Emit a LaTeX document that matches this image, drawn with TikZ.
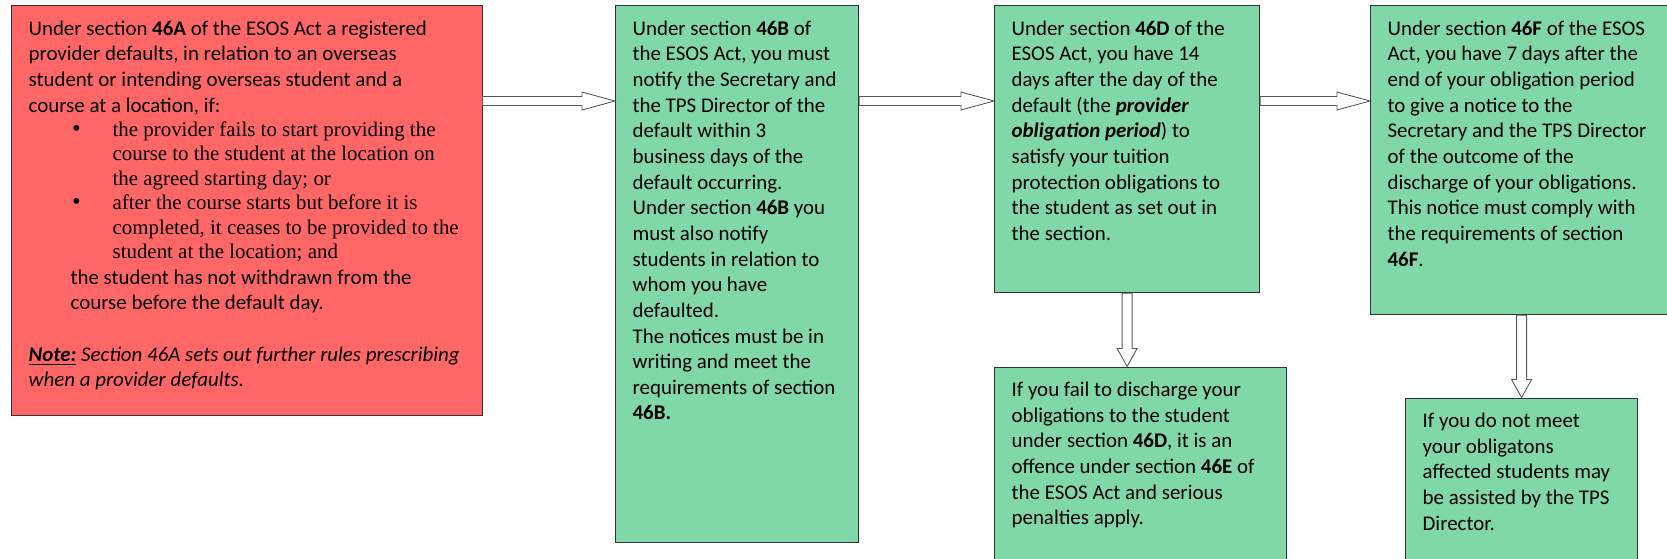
\documentclass[tikz,border=0pt]{standalone}
\usepackage{fontspec}
\setmainfont{Carlito}
\newfontfamily\timesfont{Liberation Serif}
\usepackage{xcolor}
\usetikzlibrary{calc}
\definecolor{defaultred}{HTML}{FF6666}
\definecolor{stagegreen}{HTML}{80D7A8}
\definecolor{edgegray}{HTML}{333333}
\newcommand{\stagetext}[3]{\parbox[t][#2][t]{#1}{\raggedright #3}}
\newcommand{\bulletitem}{\leavevmode\llap{{\fontsize{14}{14}\selectfont\textbullet}\hspace{0.64cm}}}

\tikzset{
  stage/.style={draw=edgegray, line width=0.7pt, anchor=north west,
    inner xsep=0.34cm, inner ysep=0.3cm, font=\fontsize{11.9}{14.6}\selectfont},
  redstage/.style={stage, fill=defaultred},
  greenstage/.style={stage, fill=stagegreen},
  rightblock/.style={draw=black!65, line width=0.5pt, fill=white,
    to path={let \p1=(\tikztostart), \p2=(\tikztotarget) in
      (\x1,\y1+0.09cm) -- (\x2-0.66cm,\y1+0.09cm) -- (\x2-0.66cm,\y1+0.18cm)
      -- (\x2,\y1) -- (\x2-0.66cm,\y1-0.18cm) -- (\x2-0.66cm,\y1-0.09cm)
      -- (\x1,\y1-0.09cm) -- cycle}},
  downblock/.style={draw=black!65, line width=0.5pt, fill=white,
    to path={let \p1=(\tikztostart), \p2=(\tikztotarget) in
      (\x1-0.1cm,\y1) -- (\x1-0.1cm,\y2+0.36cm) -- (\x1-0.2cm,\y2+0.36cm)
      -- (\x1,\y2) -- (\x1+0.2cm,\y2+0.36cm) -- (\x1+0.1cm,\y2+0.36cm)
      -- (\x1+0.1cm,\y1) -- cycle}}
}

\begin{document}
\begin{tikzpicture}
    \useasboundingbox (0,0) rectangle (33.34,-11.16);
    \clip (0,0) rectangle (33.34,-11.16);

    % When a provider defaults
    \node[redstage] (dflt) at (0.22,-0.10) {\stagetext{8.73cm}{7.60cm}{%
        Under section \textbf{46A} of the ESOS Act a registered\\
        provider defaults, in relation to an overseas\\
        student or intending overseas student and a\\
        course at a location, if:\par
        {\timesfont\fontsize{11.9}{13.9}\selectfont\leftskip=1.68cm
        \bulletitem the provider fails to start providing the\\
        course to the student at the location on\\
        the agreed starting day; or\par
        \bulletitem after the course starts but before it is\\
        completed, it ceases to be provided to the\\
        student at the location; and\par}
        {\leftskip=0.84cm the student has not withdrawn from the\\
        course before the default day.\par}
        \vspace{14.6pt}
        \textit{\underline{\textbf{Note:}} Section 46A sets out further rules prescribing}\\
        \textit{when a provider defaults.}}};

    % Notify within 3 business days
    \node[greenstage] (notify) at (12.30,-0.10) {\stagetext{4.18cm}{10.13cm}{%
        Under section \textbf{46B} of\\
        the ESOS Act, you must\\
        notify the Secretary and\\
        the TPS Director of the\\
        default within 3\\
        business days of the\\
        default occurring.\\
        Under section \textbf{46B} you\\
        must also notify\\
        students in relation to\\
        whom you have\\
        defaulted.\\
        The notices must be in\\
        writing and meet the\\
        requirements of section\\
        \textbf{46B.}}};

    % Obligation period
    \node[greenstage] (ddays) at (19.88,-0.10) {\stagetext{4.62cm}{5.14cm}{%
        Under section \textbf{46D} of the\\
        ESOS Act, you have 14\\
        days after the day of the\\
        default (the \textbf{\textit{provider}}\\
        \textbf{\textit{obligation period}}) to\\
        satisfy your tuition\\
        protection obligations to\\
        the student as set out in\\
        the section.}};

    \node[greenstage] (offence) at (19.88,-7.33) {\stagetext{5.16cm}{3.60cm}{%
        If you fail to discharge your\\
        obligations to the student\\
        under section \textbf{46D}, it is an\\
        offence under section \textbf{46E} of\\
        the ESOS Act and serious\\
        penalties apply.}};

    % Notice of outcome
    \node[greenstage] (outcome) at (27.40,-0.10) {\stagetext{5.62cm}{5.58cm}{%
        Under section \textbf{46F} of the ESOS\\
        Act, you have 7 days after the\\
        end of your obligation period\\
        to give a notice to the\\
        Secretary and the TPS Director\\
        of the outcome of the\\
        discharge of your obligations.\\
        This notice must comply with\\
        the requirements of section\\
        \textbf{46F}.}};

    \node[greenstage] (assist) at (28.10,-7.95) {\stagetext{3.96cm}{3.10cm}{%
        If you do not meet\\
        your obligatons\\
        affected students may\\
        be assisted by the TPS\\
        Director.}};

    % Block arrows
    \draw[rightblock] ([yshift=-1.92cm]dflt.north east) to ([yshift=-1.92cm]notify.north west);
    \draw[rightblock] ([yshift=-1.92cm]notify.north east) to ([yshift=-1.92cm]ddays.north west);
    \draw[rightblock] ([yshift=-1.92cm]ddays.north east) to ([yshift=-1.92cm]outcome.north west);
    \draw[downblock] (ddays.south) to (ddays.south |- offence.north);
    \draw[downblock] (outcome.south -| assist.north) to (assist.north);
\end{tikzpicture}
\end{document}
